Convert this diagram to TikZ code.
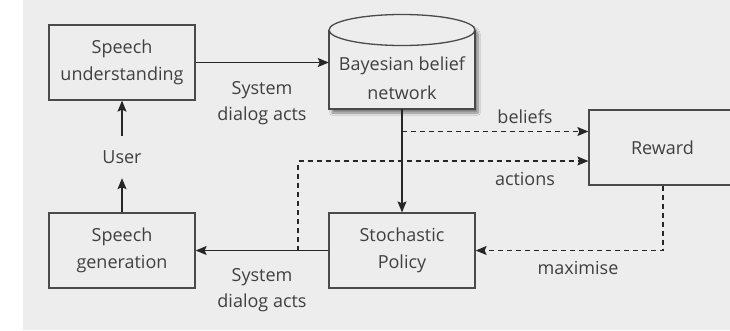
\documentclass[tikz,border=0pt]{standalone}
\usepackage{fontspec}
\setmainfont{Open Sans}
\usetikzlibrary{arrows.meta,shadows.blur}
\definecolor{bgc}{HTML}{EDEDED}
\definecolor{txt}{HTML}{404040}
\definecolor{ln}{HTML}{4A4A4A}
\tikzset{
  box/.style={draw=ln, line width=1.3pt, fill=bgc, minimum width=146pt, minimum height=75pt, inner sep=0pt, align=center, text=txt, font=\fontsize{18}{27}\selectfont},
  lbl/.style={text=txt, align=center, inner sep=0pt, font=\fontsize{18}{26}\selectfont},
  conn/.style={draw=black!85, line width=1.1pt, -{Stealth[length=11pt,width=9pt,inset=2pt]}},
  dconn/.style={conn, dash pattern=on 5pt off 4pt},
}
\begin{document}
\begin{tikzpicture}[x=1pt,y=-1pt]
\useasboundingbox (0,0) rectangle (730,330);
\fill[bgc] (23,0) rectangle (730,330);
\begin{scope}
\clip (0,0) rectangle (730,330);
% cylinder
\path[fill=bgc, blur shadow={shadow xshift=3pt, shadow yshift=-4pt, shadow blur steps=10, shadow opacity=45}]
  (329,30) -- (329,109) -- (475,109) -- (475,30) arc[start angle=0, end angle=180, x radius=73pt, y radius=15.5pt] -- cycle;
\draw[ln, line width=1.3pt] (329,30) -- (329,109) -- (475,109) -- (475,30);
\draw[ln, line width=1.3pt] (402,30) ellipse [x radius=73pt, y radius=15.5pt];
\node[lbl, minimum width=146pt, minimum height=79pt, inner sep=0pt] (bbn) at (402,69.5) {};
\node[lbl, font=\fontsize{18}{29}\selectfont] (bbntext) at (402,78) {Bayesian belief\\network};
% boxes
\node[box] (su) at (122,62.5) {Speech\\understanding};
\node[box] (sg) at (122,250.5) {Speech\\generation};
\node[box] (pol) at (402,250.5) {Stochastic\\Policy};
\node[box, minimum width=147pt] (rew) at (662.5,147.5) {Reward};
% labels
\node[lbl, minimum height=42pt] (user) at (122,157) {User};
\node[lbl] (sda1) at (262,103) {System\\dialog acts};
\node[lbl] (sda2) at (262,290) {System\\dialog acts};
\node[lbl] (bel) at (525,117) {beliefs};
\node[lbl] (act) at (525,179) {actions};
\node[lbl] (max) at (578,268) {maximise};
% connectors
\coordinate (b1) at (402,131.5);
\coordinate (a1) at (298,250.5);
\coordinate (a2) at (298,161);
\draw[conn] (su.east) -- (su.east -| bbn.west);
\draw[conn] (user.north) -- (su.south);
\draw[conn] (sg.north) -- (user.south);
\draw[conn] (bbn.south) -- (pol.north);
\draw[conn] (pol.west) -- (sg.east);
\draw[dconn] (b1) -- (b1 -| rew.west);
\draw[dconn] (a1) -- (a2) -- (a2 -| rew.west);
\draw[dconn] (rew.south -| 663,0) |- (pol.east);
\end{scope}
\end{tikzpicture}
\end{document}
